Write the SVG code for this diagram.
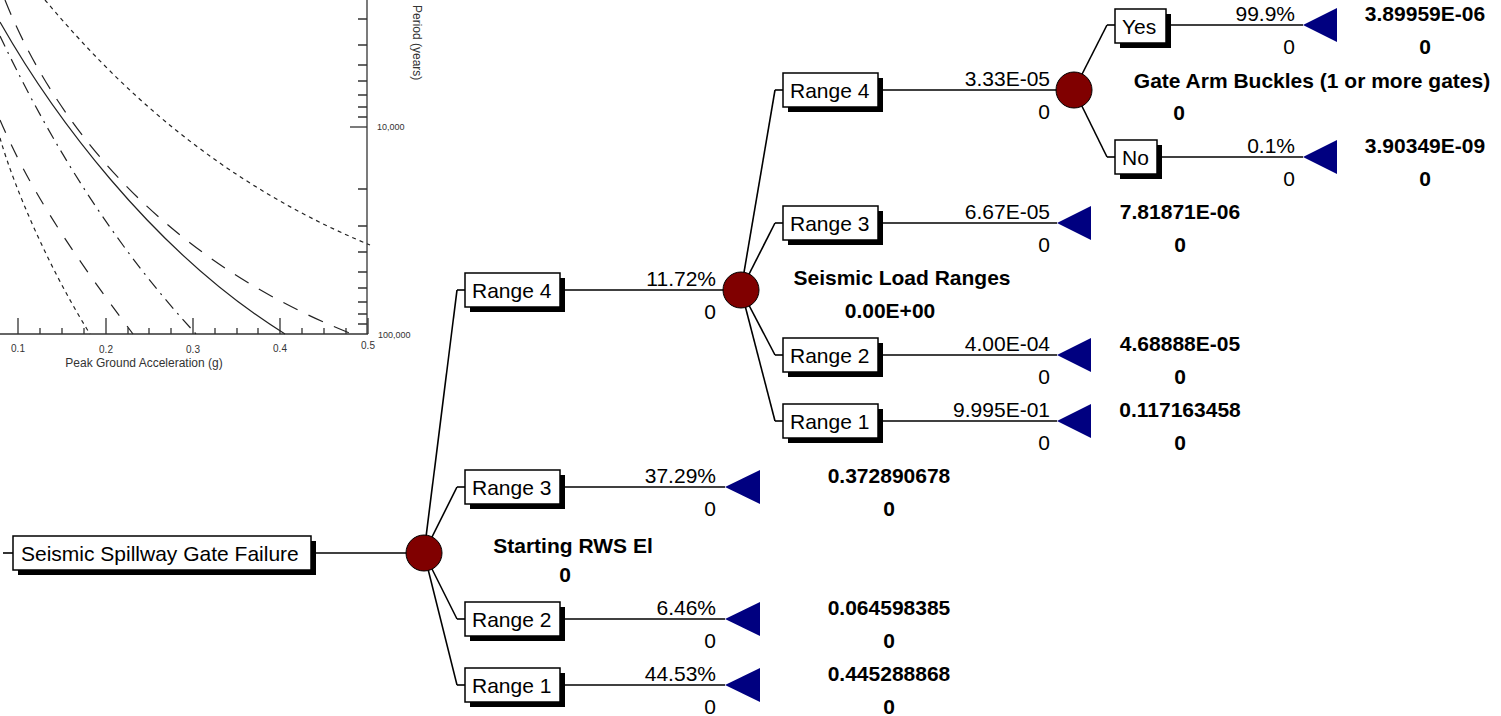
<svg xmlns="http://www.w3.org/2000/svg" width="1501" height="716" viewBox="0 0 1501 716">
<defs>
<style>
text{font-family:"Liberation Sans",Arial,sans-serif;fill:#000}
.t{font-size:21px}
.p{font-size:21px;text-anchor:end}
.v{font-size:21px;font-weight:bold;text-anchor:middle}
.box{fill:#fff;stroke:#000;stroke-width:1.5}
.sh{fill:#000}
.ch{fill:#800000;stroke:#000;stroke-width:1}
.tm{fill:#000080}
.conn line{stroke:#000;stroke-width:1.6}
.ax{stroke:#333;stroke-width:1.3;fill:none}
.cv{stroke:#222;fill:none;stroke-width:1.2}
.g{font-size:10px;fill:#333}
.gl{font-size:12px;fill:#333}
.gs{font-size:9px;fill:#333}
</style>
</defs>
<rect width="1501" height="716" fill="#fff"/>

<!-- background hazard chart (scanned figure fragment) -->
<g id="hazard-chart">
<line class="ax" x1="0" y1="334" x2="368" y2="334"/>
<line class="ax" x1="367" y1="0" x2="367" y2="334"/>
<g class="ax">
<path d="M18,318V334M106,318V334M193,318V334M280,318V334M368,318V334"/>
<path d="M40,328V334M62,328V334M84,328V334M128,328V334M149,328V334M171,328V334M215,328V334M237,328V334M258,328V334M302,328V334M324,328V334M346,328V334"/>
<path d="M350,127H367"/>
<path d="M358,19H367M358,45H367M358,65H367M358,81H367M358,95H367M358,107H367M358,117H367M358,189H367M358,226H367M358,252H367M358,272H367M358,288H367M358,302H367M358,314H367M358,324H367"/>
</g>
<path class="cv" stroke-width="2.2" d="M0,22 C50,110 150,250 285,334"/>
<path class="cv" stroke-dasharray="16,12" d="M5,0 C45,100 140,250 352,334"/>
<path class="cv" stroke-dasharray="4,4" d="M45,0 C100,65 200,175 370,245"/>
<path class="cv" stroke-dasharray="12,6,2,6" d="M0,36 C40,120 100,230 196,334"/>
<path class="cv" stroke-dasharray="14,13" d="M0,120 C30,190 70,250 133,334"/>
<path class="cv" stroke-dasharray="4,4" d="M0,138 C15,190 50,270 90,334"/>
<text class="g" x="18" y="352" text-anchor="middle">0.1</text>
<text class="g" x="106" y="353" text-anchor="middle">0.2</text>
<text class="g" x="193" y="353" text-anchor="middle">0.3</text>
<text class="g" x="280" y="352" text-anchor="middle">0.4</text>
<text class="g" x="368" y="349" text-anchor="middle">0.5</text>
<text class="gl" x="144" y="367" text-anchor="middle">Peak Ground Acceleration (g)</text>
<text class="gs" x="377" y="130">10,000</text>
<text class="gs" x="378" y="338">100,000</text>
<text class="gl" transform="translate(413,5) rotate(90)">Period (years)</text>
</g>

<!-- connectors -->
<g id="connectors" class="conn">
<line x1="3" y1="553" x2="13" y2="553"/>
<line x1="311" y1="553" x2="424" y2="553"/>
<line x1="424" y1="553" x2="457" y2="290"/>
<line x1="424" y1="553" x2="457" y2="487"/>
<line x1="424" y1="553" x2="457" y2="619"/>
<line x1="424" y1="553" x2="457" y2="685"/>
<line x1="457" y1="290" x2="465" y2="290"/>
<line x1="457" y1="487" x2="465" y2="487"/>
<line x1="457" y1="619" x2="465" y2="619"/>
<line x1="457" y1="685" x2="465" y2="685"/>
<line x1="560" y1="290" x2="741" y2="290"/>
<line x1="560" y1="487" x2="725" y2="487"/>
<line x1="560" y1="619" x2="725" y2="619"/>
<line x1="560" y1="685" x2="725" y2="685"/>
<line x1="741" y1="290" x2="775" y2="90"/>
<line x1="741" y1="290" x2="775" y2="223"/>
<line x1="741" y1="290" x2="775" y2="355"/>
<line x1="741" y1="290" x2="775" y2="421"/>
<line x1="775" y1="90" x2="783" y2="90"/>
<line x1="775" y1="223" x2="783" y2="223"/>
<line x1="775" y1="355" x2="783" y2="355"/>
<line x1="775" y1="421" x2="783" y2="421"/>
<line x1="878" y1="90" x2="1074" y2="90"/>
<line x1="878" y1="223" x2="1057" y2="223"/>
<line x1="878" y1="355" x2="1057" y2="355"/>
<line x1="878" y1="421" x2="1057" y2="421"/>
<line x1="1074" y1="90" x2="1107" y2="25"/>
<line x1="1074" y1="90" x2="1107" y2="157"/>
<line x1="1107" y1="25" x2="1115" y2="25"/>
<line x1="1107" y1="157" x2="1115" y2="157"/>
<line x1="1166" y1="25" x2="1303" y2="25"/>
<line x1="1157" y1="157" x2="1303" y2="157"/>
</g>

<!-- root -->
<g id="root">
<rect class="sh" x="18" y="541" width="298" height="34"/>
<rect class="box" x="13" y="536" width="298" height="34"/>
<text class="t" x="21" y="561">Seismic Spillway Gate Failure</text>
</g>
<g id="chance-starting-rws">
<circle class="ch" cx="424" cy="553" r="18"/>
<text class="v" x="573" y="553">Starting RWS El</text>
<text class="v" x="565" y="582">0</text>
</g>

<!-- level 1 -->
<g id="l1-range4">
<rect class="sh" x="470" y="278" width="95" height="34"/>
<rect class="box" x="465" y="273" width="95" height="34"/>
<text class="t" x="472" y="297.5">Range 4</text>
<text class="p" x="716" y="286">11.72%</text>
<text class="p" x="716" y="319">0</text>
</g>
<g id="chance-seismic-load">
<circle class="ch" cx="741" cy="290" r="18"/>
<text class="v" x="902" y="285">Seismic Load Ranges</text>
<text class="v" x="890" y="318">0.00E+00</text>
</g>
<g id="l1-range3">
<rect class="sh" x="470" y="475" width="95" height="34"/>
<rect class="box" x="465" y="470" width="95" height="34"/>
<text class="t" x="472" y="494.5">Range 3</text>
<text class="p" x="716" y="483">37.29%</text>
<text class="p" x="716" y="516">0</text>
<polygon class="tm" points="725,487 760,470 760,504"/>
<text class="v" x="889" y="483">0.372890678</text>
<text class="v" x="889" y="516">0</text>
</g>
<g id="l1-range2">
<rect class="sh" x="470" y="607" width="95" height="34"/>
<rect class="box" x="465" y="602" width="95" height="34"/>
<text class="t" x="472" y="626.5">Range 2</text>
<text class="p" x="716" y="615">6.46%</text>
<text class="p" x="716" y="648">0</text>
<polygon class="tm" points="725,619 760,602 760,636"/>
<text class="v" x="889" y="615">0.064598385</text>
<text class="v" x="889" y="648">0</text>
</g>
<g id="l1-range1">
<rect class="sh" x="470" y="673" width="95" height="34"/>
<rect class="box" x="465" y="668" width="95" height="34"/>
<text class="t" x="472" y="692.5">Range 1</text>
<text class="p" x="716" y="681">44.53%</text>
<text class="p" x="716" y="714">0</text>
<polygon class="tm" points="725,685 760,668 760,702"/>
<text class="v" x="889" y="681">0.445288868</text>
<text class="v" x="889" y="714">0</text>
</g>

<!-- level 2 -->
<g id="l2-range4">
<rect class="sh" x="788" y="78" width="95" height="34"/>
<rect class="box" x="783" y="73" width="95" height="34"/>
<text class="t" x="790" y="97.5">Range 4</text>
<text class="p" x="1050" y="86">3.33E-05</text>
<text class="p" x="1050" y="119">0</text>
</g>
<g id="chance-gate-arm">
<circle class="ch" cx="1074" cy="90" r="18"/>
<text class="v" x="1312" y="88">Gate Arm Buckles (1 or more gates)</text>
<text class="v" x="1179" y="120">0</text>
</g>
<g id="l2-range3">
<rect class="sh" x="788" y="211" width="95" height="34"/>
<rect class="box" x="783" y="206" width="95" height="34"/>
<text class="t" x="790" y="230.5">Range 3</text>
<text class="p" x="1050" y="219">6.67E-05</text>
<text class="p" x="1050" y="252">0</text>
<polygon class="tm" points="1057,223 1091,206 1091,240"/>
<text class="v" x="1180" y="219">7.81871E-06</text>
<text class="v" x="1180" y="252">0</text>
</g>
<g id="l2-range2">
<rect class="sh" x="788" y="343" width="95" height="34"/>
<rect class="box" x="783" y="338" width="95" height="34"/>
<text class="t" x="790" y="362.5">Range 2</text>
<text class="p" x="1050" y="351">4.00E-04</text>
<text class="p" x="1050" y="384">0</text>
<polygon class="tm" points="1057,355 1091,338 1091,372"/>
<text class="v" x="1180" y="351">4.68888E-05</text>
<text class="v" x="1180" y="384">0</text>
</g>
<g id="l2-range1">
<rect class="sh" x="788" y="409" width="95" height="34"/>
<rect class="box" x="783" y="404" width="95" height="34"/>
<text class="t" x="790" y="428.5">Range 1</text>
<text class="p" x="1050" y="417">9.995E-01</text>
<text class="p" x="1050" y="450">0</text>
<polygon class="tm" points="1057,421 1091,404 1091,438"/>
<text class="v" x="1180" y="417">0.117163458</text>
<text class="v" x="1180" y="450">0</text>
</g>

<!-- level 3 -->
<g id="l3-yes">
<rect class="sh" x="1120" y="14" width="51" height="34"/>
<rect class="box" x="1115" y="9" width="51" height="34"/>
<text class="t" x="1122" y="33.5">Yes</text>
<text class="p" x="1295" y="21">99.9%</text>
<text class="p" x="1295" y="54">0</text>
<polygon class="tm" points="1303,25 1337,8 1337,42"/>
<text class="v" x="1425" y="21">3.89959E-06</text>
<text class="v" x="1425" y="54">0</text>
</g>
<g id="l3-no">
<rect class="sh" x="1120" y="145" width="42" height="34"/>
<rect class="box" x="1115" y="140" width="42" height="34"/>
<text class="t" x="1122" y="164.5">No</text>
<text class="p" x="1295" y="153">0.1%</text>
<text class="p" x="1295" y="186">0</text>
<polygon class="tm" points="1303,157 1337,140 1337,174"/>
<text class="v" x="1425" y="153">3.90349E-09</text>
<text class="v" x="1425" y="186">0</text>
</g>
</svg>
